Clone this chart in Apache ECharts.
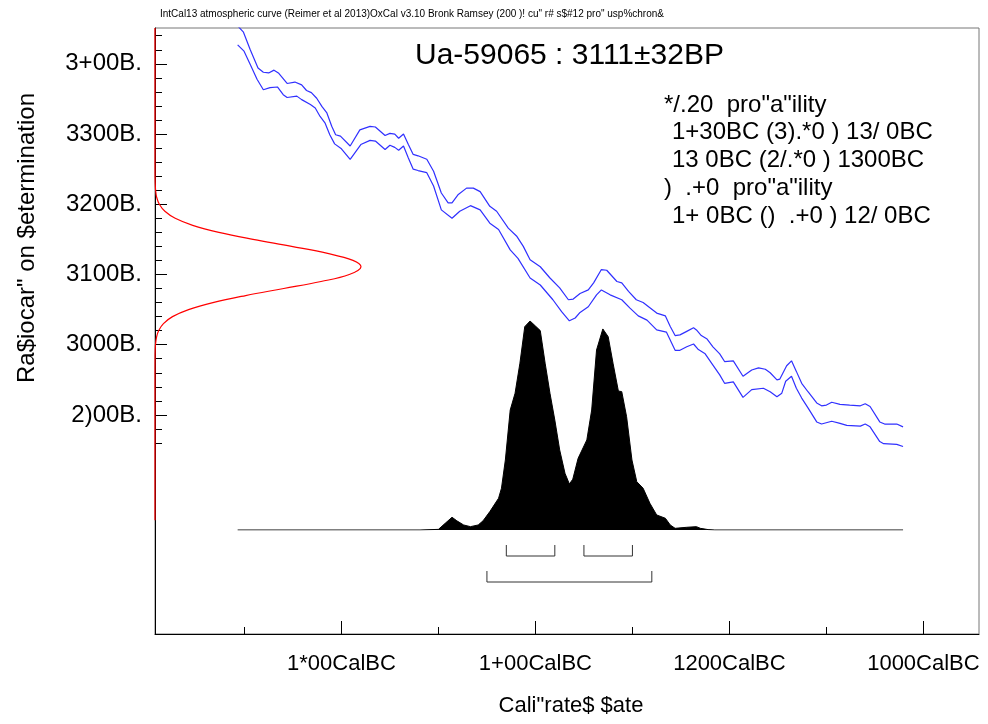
<!DOCTYPE html>
<html><head><meta charset="utf-8">
<script src="https://cdn.jsdelivr.net/npm/echarts@6/dist/echarts.min.js"></script>
<style>html,body{margin:0;padding:0;background:#fff}#c{width:988px;height:724px}</style>
</head><body><div id="c"></div>
<script>
// ---- texts ----
const headerText = 'IntCal13 atmospheric curve (Reimer et al 2013)OxCal v3.10 Bronk Ramsey (200 )! cu" r# s$#12 pro" usp%chron&';
const sampleLabel = 'Ua-59065 : 3111\u00b132BP';
const rangeLines = ['*/.20  pro"a"ility', '1+30BC (3).*0 ) 13/ 0BC', '13 0BC (2/.*0 ) 1300BC', ')  .+0  pro"a"ility', '1+ 0BC ()  .+0 ) 12/ 0BC'];
const rangeIndent = [0, 1, 1, 0, 1];
const xTitle = 'Cali"rate$ $ate';
const yTitle = 'Ra$iocar" on $etermination';

// ---- axes ----
const xTickValues = [1600, 1400, 1200, 1000];
const xTickLabels = ['1*00CalBC', '1+00CalBC', '1200CalBC', '1000CalBC'];
const xMinorTicks = [1700, 1500, 1300, 1100];
const yTickValues = [3400, 3300, 3200, 3100, 3000, 2900];
const yTickLabels = ['3+00B.', '3300B.', '3200B.', '3100B.', '3000B.', '2)00B.'];
const yMinorTicks = [3440, 3420, 3380, 3360, 3340, 3320, 3280, 3260, 3240, 3220, 3180, 3160, 3140, 3120, 3080, 3060, 3040, 3020, 2980, 2960, 2940, 2920, 2880, 2860];

// ---- calibration curve (cal BC, BP) ----
const upperYears = [1707,1701,1694,1686,1680.5,1675,1669.5,1665,1656,1648,1641,1636,1631,1625.5,1620,1615,1610,1606,1601,1591,1581,1570.5,1565,1555,1550,1545,1541,1536,1531,1526,1521,1512,1505,1497,1490,1486,1479.5,1471,1464,1457,1447,1440,1428,1419,1412.5,1405.5,1395,1385,1375,1366,1361,1354,1345.5,1340,1332,1326.5,1316,1311,1304,1296,1289,1275,1266,1261,1256,1251,1244,1237,1234,1229,1223,1217,1210,1205,1196,1186,1177,1170,1163,1158,1151,1148,1141,1136,1131,1125.5,1119,1110,1105,1100,1094.5,1086,1076,1065,1060,1055,1045,1040,1027.5,1021];
const upperBP = [3454,3445,3420,3394,3388,3387,3391,3387,3372,3374,3370,3362,3359,3351,3339,3330,3311,3299,3297,3283,3306,3311,3310,3298,3301,3300,3294,3300,3285,3271,3269,3264,3247,3216,3202,3202,3214,3223,3223,3218,3197,3190,3166,3154,3140,3121,3111,3095,3081,3064,3065,3073,3078,3088,3107,3106,3090,3088,3076,3064,3060,3045,3041,3026,3013,3014,3019,3024,3021,3013,3008,2997,2987,2976,2977,2955,2964,2967,2965,2960,2950,2951,2970,2977,2962,2945,2933,2917,2913,2914,2918,2915,2914,2913,2916,2912,2890,2887,2887,2883];
const lowerYears = [1707,1700.4,1694,1687,1680.5,1673.6,1666,1660,1656,1646,1641,1632,1627,1622,1617,1612,1607,1600,1591,1580,1570.5,1565,1555,1550,1545,1541,1536,1531,1526,1521,1512,1505,1497,1486,1478,1467,1457,1447,1438,1426,1418,1405.5,1395,1382,1373,1365,1359,1354,1345.5,1337,1332,1323,1311,1302.5,1294,1285,1275,1265,1256,1251,1244,1237,1232,1225,1217,1210,1205,1196,1186,1177,1165,1158,1151,1146,1142,1136,1131,1125.5,1119,1110,1105,1094.5,1086,1079,1065,1060,1055,1045,1041,1027.5,1021];
const lowerBP = [3427,3418,3399,3378,3363,3366,3367,3356,3352,3354,3349,3342,3337,3325,3316,3299,3286,3279,3264,3285,3291,3290,3278,3284,3281,3277,3283,3266,3250,3248,3245,3226,3192,3180,3190,3198,3192,3173,3164,3135,3123,3095,3085,3064,3047,3034,3038,3046,3054,3071,3078,3071,3064,3052,3041,3035,3021,3018,2992,2992,2997,3001,2993,2987,2971,2957,2945,2947,2925,2936,2938,2933,2926,2931,2948,2955,2938,2924,2910,2890,2887,2891,2888,2885,2884,2887,2883,2862,2859,2858,2855];

// ---- radiocarbon measurement likelihood (BP, relative density) ----
const likeBP = [3451,3260,3250,3240,3230,3220,3210,3200,3190,3180,3170,3160,3150,3140,3130,3120,3111,3100,3090,3080,3070,3060,3050,3040,3030,3020,3010,3000,2990,2980,2960,2750];
const likeP  = [0,0.00002,0.00008,0.0003,0.001,0.003,0.008,0.021,0.048,0.098,0.183,0.31,0.476,0.663,0.838,0.961,1,0.943,0.806,0.625,0.44,0.281,0.163,0.085,0.041,0.0175,0.007,0.0024,0.0007,0.0002,0.00001,0];

// ---- calibrated probability (cal BC, relative probability) ----
const distYears = [1707,1519,1500,1493,1486,1481,1474,1467,1459,1454,1447,1438,1435,1431,1426,1421,1416,1411,1405.5,1400,1395,1390,1385,1380,1375,1369.5,1365,1361.5,1356,1347,1342,1337,1330.5,1325,1320,1314.5,1311,1306,1300.5,1295.5,1289,1282,1275,1266,1261,1256,1244,1234,1230,1222,1215,1021];
const distProb  = [0,0,0.003,0.032,0.061,0.044,0.024,0.016,0.024,0.044,0.088,0.152,0.2,0.335,0.574,0.654,0.798,0.973,1.0,0.976,0.954,0.798,0.654,0.526,0.383,0.271,0.22,0.243,0.343,0.431,0.574,0.861,0.962,0.925,0.798,0.665,0.662,0.542,0.335,0.231,0.2,0.128,0.072,0.056,0.024,0.008,0.013,0.016,0.008,0.002,0,0];

// ---- ranges (cal BC from, to) ----
const range68 = [[1430, 1380], [1350, 1300]];
const range95 = [[1450, 1280]];

// ---------------------------------------------------------------
const FONT = '"Liberation Sans", Arial, sans-serif';
const X_MIN = 942.7, X_MAX = 1792.2, Y_MIN = 2588, Y_MAX = 3451;
const G = {left: 155, top: 28, width: 824, height: 606};

const bracketData = range68.map(r => [r[0], r[1], 0]).concat(range95.map(r => [r[0], r[1], 1]));

const chart = echarts.init(document.getElementById('c'), null, {renderer: 'canvas'});
chart.setOption({
  animation: false,
  backgroundColor: '#fff',
  grid: [
    Object.assign({show: true, borderColor: '#777', borderWidth: 1, backgroundColor: 'transparent'}, G),
    {left: G.left, width: G.width, top: 321, height: 209}
  ],
  xAxis: [
    {gridIndex: 0, type: 'value', inverse: true, min: X_MIN, max: X_MAX, position: 'bottom',
     axisLine: {onZero: false, lineStyle: {color: '#000', width: 1}},
     axisTick: {inside: true, length: 13, customValues: xTickValues, lineStyle: {color: '#000'}},
     axisLabel: {customValues: xTickValues, margin: 19, color: '#000', fontSize: 22, fontFamily: FONT,
       formatter: v => xTickLabels[xTickValues.indexOf(v)]},
     splitLine: {show: false}},
    {gridIndex: 0, type: 'value', inverse: true, min: X_MIN, max: X_MAX, position: 'bottom',
     axisLine: {show: false},
     axisTick: {inside: true, length: 7, customValues: xMinorTicks, lineStyle: {color: '#000'}},
     axisLabel: {show: false}, splitLine: {show: false}},
    {gridIndex: 0, type: 'value', min: 0, max: 4, show: false, position: 'top'},
    {gridIndex: 1, type: 'value', inverse: true, min: X_MIN, max: X_MAX, show: false}
  ],
  yAxis: [
    {gridIndex: 0, type: 'value', min: Y_MIN, max: Y_MAX, position: 'left',
     axisLine: {onZero: false, lineStyle: {color: '#000', width: 1}},
     axisTick: {inside: true, length: 12, customValues: yTickValues, lineStyle: {color: '#000'}},
     axisLabel: {customValues: yTickValues, margin: 13, color: '#000', fontSize: 24, fontFamily: FONT,
       formatter: v => yTickLabels[yTickValues.indexOf(v)]},
     splitLine: {show: false}},
    {gridIndex: 0, type: 'value', min: Y_MIN, max: Y_MAX, position: 'left',
     axisLine: {show: false},
     axisTick: {inside: true, length: 7, customValues: yMinorTicks, lineStyle: {color: '#000'}},
     axisLabel: {show: false}, splitLine: {show: false}},
    {gridIndex: 1, type: 'value', min: 0, max: 1, show: false}
  ],
  series: [
    {type: 'line', name: 'upper', xAxisIndex: 0, yAxisIndex: 0, showSymbol: false, silent: true,
     data: upperYears.map((y, i) => [y, upperBP[i]]), lineStyle: {color: '#3030ff', width: 1.2}},
    {type: 'line', name: 'lower', xAxisIndex: 0, yAxisIndex: 0, showSymbol: false, silent: true,
     data: lowerYears.map((y, i) => [y, lowerBP[i]]), lineStyle: {color: '#3030ff', width: 1.2}},
    {type: 'line', name: 'like', xAxisIndex: 2, yAxisIndex: 0, showSymbol: false, silent: true, smooth: 0.4,
     data: likeBP.map((b, i) => [likeP[i], b]), lineStyle: {color: '#ff0000', width: 1.2}},
    {type: 'line', name: 'dist', xAxisIndex: 3, yAxisIndex: 2, showSymbol: false, silent: true,
     data: distYears.map((y, i) => [y, distProb[i]]),
     lineStyle: {color: '#000', width: 1}, areaStyle: {color: '#000', opacity: 1, origin: 'start'}},
    {type: 'custom', name: 'ranges', xAxisIndex: 3, yAxisIndex: 2, clip: false, silent: true,
     data: bracketData,
     renderItem: (params, api) => {
       const a = api.coord([api.value(0), 0]);
       const b = api.coord([api.value(1), 0]);
       const lvl = api.value(2);
       const top = a[1] + (lvl === 0 ? 15 : 41);
       const bot = top + 11;
       return {type: 'polyline', shape: {points: [[a[0], top], [a[0], bot], [b[0], bot], [b[0], top]]},
               style: {stroke: '#333', lineWidth: 1, fill: null}};
     }}
  ],
  graphic: [
    {type: 'text', x: 160, y: 14, style: {text: headerText, font: '10px ' + FONT, fill: '#000', verticalAlign: 'middle'}},
    {type: 'text', x: 415, y: 56, style: {text: sampleLabel, font: '30px ' + FONT, fill: '#000', verticalAlign: 'middle'}},
    ...rangeLines.map((t, i) => ({type: 'text', x: 664 + rangeIndent[i] * 8, y: 105 + i * 27.8,
      style: {text: t, font: '24px ' + FONT, fill: '#000', verticalAlign: 'middle'}})),
    {type: 'text', x: 571, y: 706, style: {text: xTitle, font: '22px ' + FONT, fill: '#000', align: 'center', verticalAlign: 'middle'}},
    {type: 'text', x: 27, y: 238, rotation: Math.PI / 2, style: {text: yTitle, font: '24px ' + FONT, fill: '#000', align: 'center', verticalAlign: 'middle'}}
  ]
});
</script></body></html>
